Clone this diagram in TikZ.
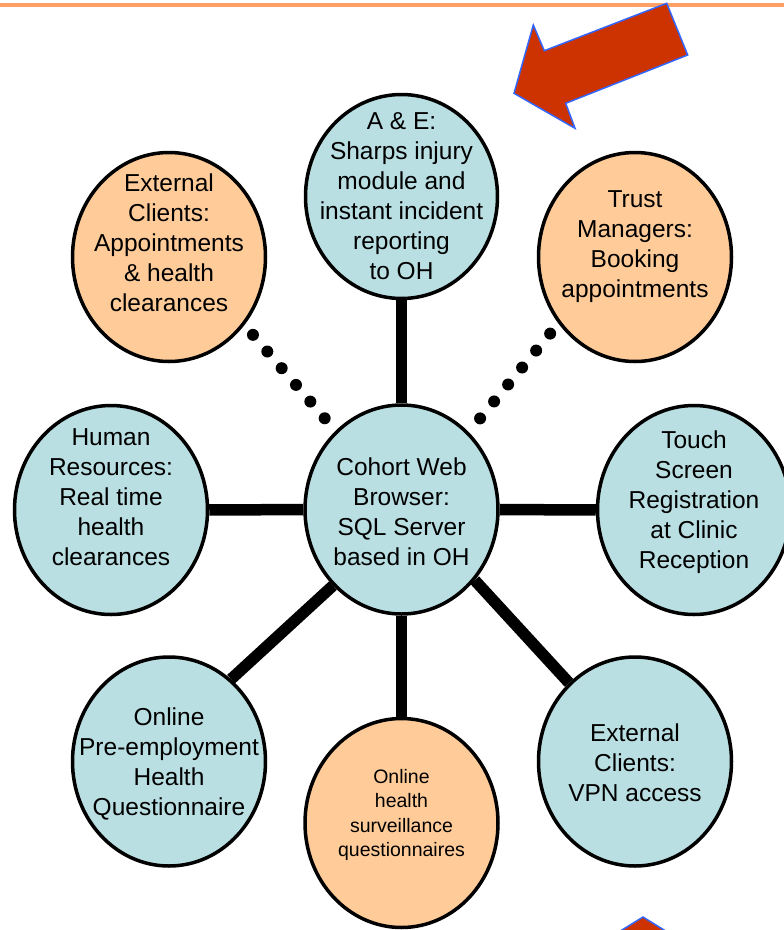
\documentclass[tikz,border=0pt]{standalone}
\usepackage{xcolor}
\usepackage{fontspec}
\setmainfont{Liberation Sans}
\usepackage{tikz}
\usetikzlibrary{shapes, positioning}
\definecolor{bubbleblue}{RGB}{185,223,227}
\definecolor{bubbleorange}{RGB}{255,204,153}
\definecolor{arrowred}{RGB}{204,51,0}
\definecolor{arrowblue}{RGB}{51,102,255}
\definecolor{ruleorange}{RGB}{255,160,102}

\begin{document}
\begin{tikzpicture}[x=1pt, y=-1pt,
		bubble/.style={ellipse, draw=black, line width=3.5pt, minimum width=193pt, minimum height=209pt, inner sep=0pt},
		bluebubble/.style={bubble, fill=bubbleblue},
		orangebubble/.style={bubble, fill=bubbleorange},
		caption/.style={align=center, inner sep=0pt, font=\fontsize{24.5}{30}\selectfont},
		smallcaption/.style={align=center, inner sep=0pt, font=\fontsize{19.5}{24.3}\selectfont},
		link/.style={line width=11.5pt},
		dotlink/.style={line width=12pt, line cap=round, dash pattern=on 0pt off 22pt},
		bigarrow/.style={fill=arrowred, draw=arrowblue, line width=1.5pt}]
				\useasboundingbox (0,0) rectangle (784,930);
				\draw [ruleorange, line width=4pt] (0,5.3) -- (784,5.3);
				%% arrows
				\draw [bigarrow] (666.7,3.3) -- (687.7,55) -- (565.7,103.3) -- (575,128.3) -- (514,93.3) -- (533.3,25) -- (544.3,50.7) -- cycle;
				\draw [bigarrow] (643,917) -- (690,946) -- (596,946) -- cycle;
				
				\node[bluebubble, minimum width=192pt, minimum height=204pt] (ae) at (401.5,196.5) {};
				\node[orangebubble] (extc) at (169,257) {};
				\node[orangebubble] (trust) at (635,257) {};
				\node[bluebubble] (hr) at (111,510) {};
				\node[bluebubble] (web) at (401.5,509.5) {};
				\node[bluebubble] (touch) at (694,510) {};
				\node[bluebubble] (pre) at (169,761.5) {};
				\node[orangebubble] (surv) at (401.5,823) {};
				\node[bluebubble] (vpn) at (635,761.5) {};
				
				\draw [link] (web) -- (ae);
				\draw [link] (web) -- (hr);
				\draw [link] (web) -- (touch);
				\draw [link] (web) -- (surv);
				\draw [link] (web.228) -- (pre.53);
				\draw [link] (web.316) -- (vpn.130);
				\draw [dotlink, shorten <=13pt, shorten >=15pt] (extc.318.5) -- (web.130.3);
				\draw [dotlink, shorten <=13pt, shorten >=15pt] (trust.221.5) -- (web.49.7);
				
				\node[caption] (aetext) at (401.5,196.5) {A \& E:\\Sharps injury\\module and\\instant incident\\reporting\\to OH};
				\node[caption] (extctext) at (169,243) {External\\Clients:\\Appointments\\\& health\\clearances};
				\node[caption] (trusttext) at (635,246.5) {Trust\\Managers:\\Booking\\appointments};
				\node[caption] (hrtext) at (111,497) {Human\\Resources:\\Real time\\health\\clearances};
				\node[caption] (webtext) at (401.5,512) {Cohort Web\\Browser:\\SQL Server\\based in OH};
				\node[caption] (touchtext) at (694,502.5) {Touch\\Screen\\Registration\\at Clinic\\Reception};
				\node[caption] (pretext) at (169,764) {Online\\Pre-employment\\Health\\Questionnaire};
				\node[smallcaption] (survtext) at (401.5,815) {Online\\health\\surveillance\\questionnaires};
				\node[caption] (vpntext) at (635,763) {External\\Clients:\\VPN access};
\end{tikzpicture}
\end{document}
